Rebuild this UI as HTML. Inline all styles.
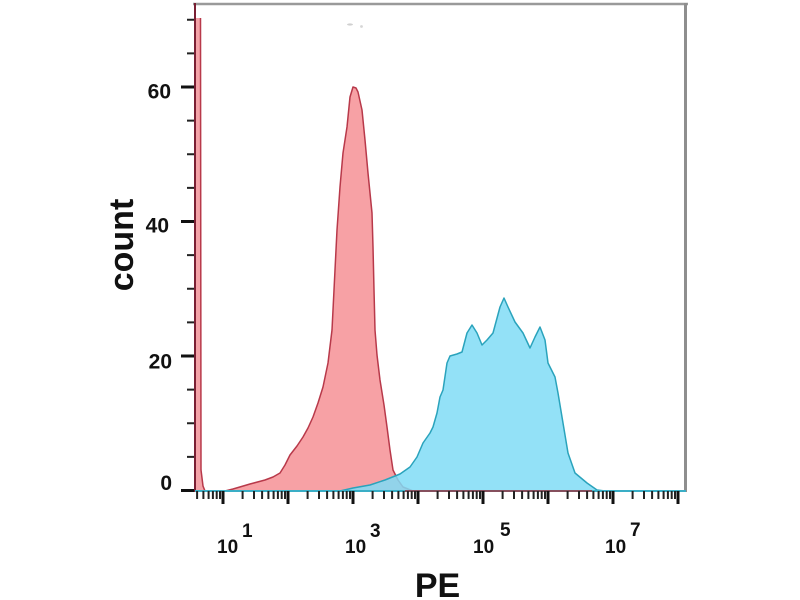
<!DOCTYPE html>
<html>
<head>
<meta charset="utf-8">
<style>
  html, body { margin: 0; padding: 0; background: #ffffff; }
  body { width: 800px; height: 600px; overflow: hidden; }
  svg { display: block; }
  text { font-family: "Liberation Sans", Arial, sans-serif; font-weight: bold; fill: #111; }
</style>
</head>
<body>
<svg width="800" height="600" viewBox="0 0 800 600" xmlns="http://www.w3.org/2000/svg">
  <rect x="0" y="0" width="800" height="600" fill="#ffffff"/>

  <!-- faint marks near top -->
  <ellipse cx="350" cy="24.5" rx="3" ry="1.1" fill="#d0d0d0"/>
  <ellipse cx="361.5" cy="26.5" rx="1.4" ry="1.4" fill="#d6d6d6"/>

  <!-- red histogram (main peak) -->
  <polygon fill="#f7a1a5" stroke="#b8394a" stroke-width="1.5" stroke-linejoin="round"
    points="225,491 233,489 250,484 265,480 273,477 280,473 285,465 290,455 297,446 303,437 308,428 313,417 318,403 323,387 328,363 332,330 335,270 337,230 340,187 343,153 347,127 350,97 353,87 356,88 358,92 362,110 365,140 368,173 372,213 373,247 374,290 375,330 377,355 380,380 384,405 387,427 390,450 393,470 398,480 403,487 413,491"/>

  <!-- blue histogram -->
  <polygon fill="#80dcf6" fill-opacity="0.85" stroke="#2aa3bc" stroke-width="1.5" stroke-linejoin="round"
    points="340,491 353,488 370,485 385,480 400,474 410,467 417,457 423,443 430,433 433,427 437,413 440,397 443,390 447,363 450,356 457,354 462,352 467,333 472,325 477,333 482,345 487,340 493,333 500,307 504,298 508,307 515,322 523,333 530,348 535,337 540,327 545,340 548,363 555,377 558,393 563,423 568,453 575,473 587,483 597,490 605,491"/>

  <!-- red spike at left edge (no top cap) -->
  <polygon fill="#f4a3a8" points="195,18 200.5,18 201,470 203,486 205,491 195,491"/>
  <polyline fill="none" stroke="#b8394a" stroke-width="1.5" points="200.5,18 201,470 203,486 205,491"/>

  <!-- frame -->
  <line x1="193" y1="4" x2="688" y2="4" stroke="#9a9a9a" stroke-width="2.5"/>
  <line x1="685.5" y1="3" x2="685.5" y2="492" stroke="#8e8e8e" stroke-width="3"/>
  <line x1="195" y1="3" x2="195" y2="492" stroke="#7a1f33" stroke-width="2"/>

  <!-- baseline -->
  <line x1="195" y1="491" x2="686" y2="491" stroke="#3aaec6" stroke-width="2"/>
  <line x1="405" y1="491" x2="592" y2="491" stroke="#a0303c" stroke-width="1.5"/>

  <!-- y ticks -->
  <path d="M181 490.5H194 M181 356H194 M181 221.5H194 M181 87H194" stroke="#111" stroke-width="3"/>
  <path d="M187 456.9H194 M187 423.3H194 M187 389.6H194 M187 322.4H194 M187 288.8H194 M187 255.1H194 M187 187.9H194 M187 154.3H194 M187 120.6H194 M187 53.4H194 M187 19.8H194" stroke="#222" stroke-width="2"/>

  <!-- x major ticks -->
  <path d="M223 491V504 M288 491V504 M353 491V504 M418 491V504 M483 491V504 M548 491V504 M613 491V504 M678 491V504" stroke="#111" stroke-width="3"/>
  <!-- x minor ticks -->
  <path d="M197.1 491V499 M203.4 491V499 M208.6 491V499 M212.9 491V499 M216.7 491V499 M220 491V499
           M242.6 491V499 M254 491V499 M262.1 491V499 M268.4 491V499 M273.6 491V499 M277.9 491V499 M281.7 491V499 M285 491V499
           M307.6 491V499 M319 491V499 M327.1 491V499 M333.4 491V499 M338.6 491V499 M342.9 491V499 M346.7 491V499 M350 491V499
           M372.6 491V499 M384 491V499 M392.1 491V499 M398.4 491V499 M403.6 491V499 M407.9 491V499 M411.7 491V499 M415 491V499
           M437.6 491V499 M449 491V499 M457.1 491V499 M463.4 491V499 M468.6 491V499 M472.9 491V499 M476.7 491V499 M480 491V499
           M502.6 491V499 M514 491V499 M522.1 491V499 M528.4 491V499 M533.6 491V499 M537.9 491V499 M541.7 491V499 M545 491V499
           M567.6 491V499 M579 491V499 M587.1 491V499 M593.4 491V499 M598.6 491V499 M602.9 491V499 M606.7 491V499 M610 491V499
           M632.6 491V499 M644 491V499 M652.1 491V499 M658.4 491V499 M663.6 491V499 M667.9 491V499 M671.7 491V499 M675 491V499"
        stroke="#222" stroke-width="2"/>

  <!-- y tick labels -->
  <text x="171" y="98.5" font-size="21" text-anchor="end">60</text>
  <text x="169" y="232.5" font-size="21" text-anchor="end">40</text>
  <text x="172" y="368.5" font-size="21" text-anchor="end">20</text>
  <text x="172" y="490" font-size="21" text-anchor="end">0</text>

  <!-- x tick labels -->
  <text x="217" y="553" font-size="19">10</text><text x="242" y="537" font-size="19">1</text>
  <text x="345" y="553" font-size="19">10</text><text x="370" y="537" font-size="19">3</text>
  <text x="473" y="553" font-size="19">10</text><text x="500" y="536" font-size="19">5</text>
  <text x="605" y="553" font-size="19">10</text><text x="630" y="536" font-size="19">7</text>

  <!-- axis titles -->
  <text x="437.5" y="597" font-size="34" text-anchor="middle">PE</text>
  <text transform="translate(133,245) rotate(-90)" font-size="34" text-anchor="middle">count</text>
</svg>
</body>
</html>
